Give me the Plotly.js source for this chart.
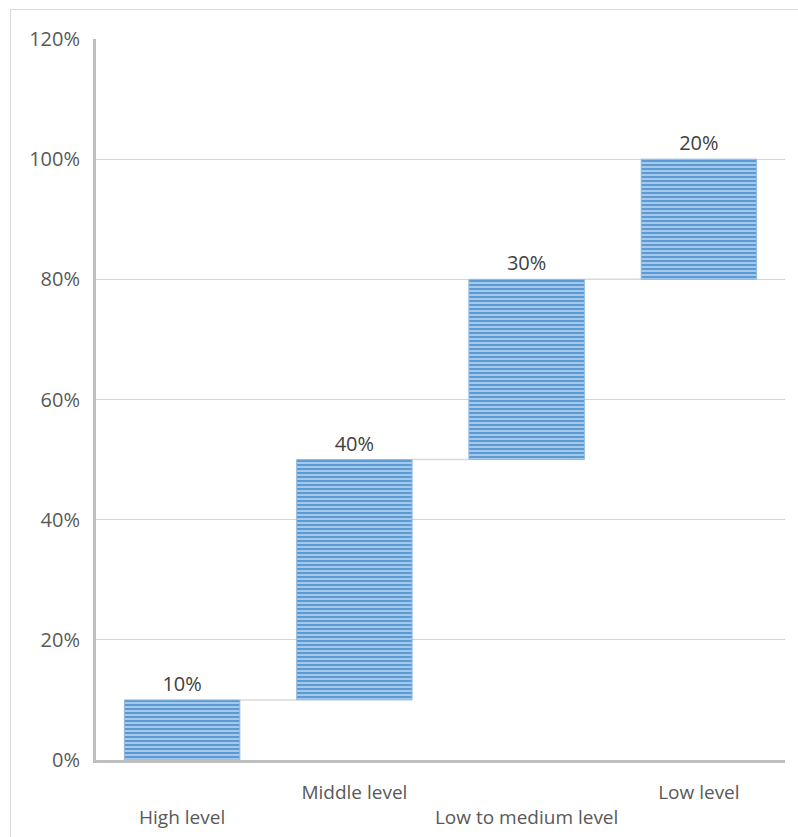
<!DOCTYPE html>
<html>
<head>
<meta charset="utf-8">
<script src="https://cdn.plot.ly/plotly-3.0.1.min.js"></script>
<style>
  html, body { margin: 0; padding: 0; background: #ffffff; }
  #frame {
    position: absolute; left: 10px; top: 9px; width: 800px; height: 840px;
    border: 1.5px solid #d9d9d9; box-sizing: border-box; pointer-events: none;
  }
  #chart { position: absolute; left: 0; top: 0; width: 798px; height: 837px; }
</style>
</head>
<body>
<div id="chart"></div>
<div id="frame"></div>
<script>
// Share of each level, stacked as a cumulative step chart
const categories = ['High level', 'Middle level', 'Low to medium level', 'Low level'];
const shares = [0.10, 0.40, 0.30, 0.20];
const tickLabels = ['<br>High level', 'Middle level', '<br>Low to medium level', 'Low level'];
const labelTexts = ['10%', '40%', '30%', '20%'];

// each step starts where the previous one ended
const starts = [];
let running = 0;
for (const v of shares) { starts.push(running); running += v; }

const connectorTrace = {
  type: 'waterfall',
  x: categories,
  y: shares,
  measure: shares.map(() => 'relative'),
  increasing: { marker: { color: 'rgba(0,0,0,0)', line: { width: 0 } } },
  connector: { mode: 'between', line: { color: '#d9d9d9', width: 1.5, dash: 'solid' } },
  hoverinfo: 'skip',
  showlegend: false,
  textinfo: 'none'
};

const barTrace = {
  type: 'bar',
  x: categories,
  y: shares,
  base: starts,
  marker: {
    color: '#a9c9ec',
    line: { color: '#8fb8e3', width: 1 },
    pattern: { shape: '-', fgcolor: '#5b9bd5', bgcolor: '#b9d3ef', size: 4, solidity: 0.6 }
  },
  text: labelTexts,
  textposition: 'outside',
  cliponaxis: false,
  textfont: { family: 'Open Sans, sans-serif', size: 20, color: '#404040' },
  hoverinfo: 'skip',
  showlegend: false
};

const layout = {
  width: 798,
  height: 837,
  margin: { l: 96, r: 13, t: 39, b: 77 },
  paper_bgcolor: '#ffffff',
  plot_bgcolor: '#ffffff',
  bargap: 0.33,
  waterfallgap: 0.33,
  showlegend: false,
  xaxis: {
    type: 'category',
    tickvals: categories,
    ticktext: tickLabels,
    tickfont: { family: 'Open Sans, sans-serif', size: 19, color: '#595959' },
    showgrid: false,
    showline: true,
    linecolor: '#bfbfbf',
    linewidth: 3,
    ticks: '',
    ticklabelstandoff: 13,
    zeroline: false,
    fixedrange: true
  },
  yaxis: {
    range: [0, 1.2],
    dtick: 0.2,
    tick0: 0,
    tickformat: '.0%',
    tickfont: { family: 'Open Sans, sans-serif', size: 20, color: '#595959' },
    showgrid: true,
    gridcolor: '#d4d4d4',
    gridwidth: 1.3,
    showline: true,
    linecolor: '#bfbfbf',
    linewidth: 3,
    zeroline: false,
    ticks: '',
    ticklabelstandoff: 9,
    fixedrange: true
  }
};

Plotly.newPlot('chart', [connectorTrace, barTrace], layout, { displayModeBar: false, staticPlot: true });
</script>
</body>
</html>
